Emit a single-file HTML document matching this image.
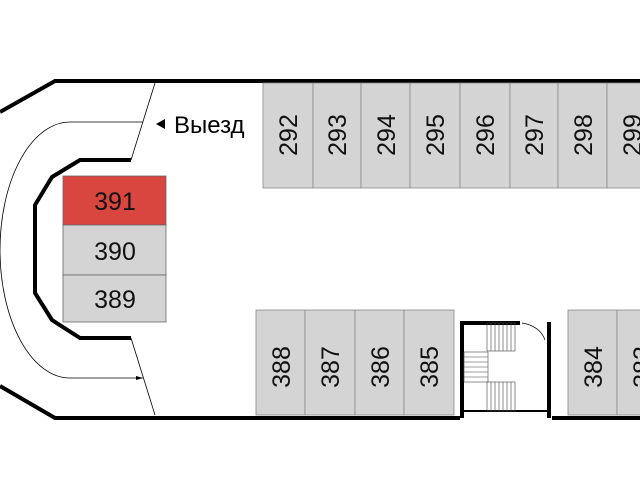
<!DOCTYPE html><html><head><style>body{margin:0;background:#fff}</style></head><body>
<svg width="640" height="480" xmlns="http://www.w3.org/2000/svg" font-family="Liberation Sans, sans-serif">
<rect width="640" height="480" fill="#fff"/>
<g stroke="#000" stroke-width="4" fill="none">
<polyline points="0,112 55,81 640,81"/>
<polyline points="0,386 55,418 460,418"/>
<polyline points="552,418 640,418"/>
<polyline points="131,160 80,160 52,177 35,205 35,293 52,320 80,338 131,338"/>
</g>
<g stroke="#000" stroke-width="0.8" fill="none">
<line x1="155" y1="83" x2="131" y2="160"/>
<line x1="131" y1="338" x2="155" y2="415"/>
<path d="M143,122 H70 A70,128 0 0 0 70,378 H143"/>
</g>
<polygon points="143,378 136,376 136,380" fill="#000"/>
<polygon points="156,124 165,119 165,129" fill="#000"/>
<text x="174" y="133" font-size="24">Выезд</text>
<g stroke="#666" stroke-width="0.8">
<rect x="63" y="176" width="103" height="49" fill="#d9463f"/>
<rect x="63" y="225" width="103" height="50" fill="#d4d4d4"/>
<rect x="63" y="275" width="103" height="47" fill="#d4d4d4"/>
</g>
<g font-size="25" text-anchor="middle" fill="#111">
<text x="115" y="210">391</text><text x="115" y="260">390</text><text x="115" y="308">389</text>
</g>
<g stroke="#888" stroke-width="0.8" fill="#d4d4d4">
<rect x="263" y="83" width="50" height="105"/><rect x="313" y="83" width="48" height="105"/>
<rect x="361" y="83" width="49" height="105"/><rect x="410" y="83" width="50" height="105"/>
<rect x="460" y="83" width="50" height="105"/><rect x="510" y="83" width="48" height="105"/>
<rect x="558" y="83" width="49" height="105"/><rect x="607" y="83" width="49" height="105"/>
<rect x="256" y="310" width="49" height="105"/><rect x="305" y="310" width="50" height="105"/>
<rect x="355" y="310" width="49" height="105"/><rect x="404" y="310" width="50" height="105"/>
<rect x="568" y="310" width="49" height="105"/><rect x="617" y="310" width="49" height="105"/>
</g>
<g font-size="25" fill="#111" text-anchor="middle">
<text transform="translate(297,135) rotate(-90)">292</text>
<text transform="translate(346,135) rotate(-90)">293</text>
<text transform="translate(395,135) rotate(-90)">294</text>
<text transform="translate(444,135) rotate(-90)">295</text>
<text transform="translate(494,135) rotate(-90)">296</text>
<text transform="translate(543,135) rotate(-90)">297</text>
<text transform="translate(592,135) rotate(-90)">298</text>
<text transform="translate(641,135) rotate(-90)">299</text>
<text transform="translate(290,367) rotate(-90)">388</text>
<text transform="translate(339,367) rotate(-90)">387</text>
<text transform="translate(389,367) rotate(-90)">386</text>
<text transform="translate(438,367) rotate(-90)">385</text>
<text transform="translate(602,367) rotate(-90)">384</text>
<text transform="translate(651,367) rotate(-90)">383</text>
</g>
<g stroke="#000" fill="none">
<polyline points="462,418 462,323 520,323" stroke-width="4"/>
<line x1="549" y1="322" x2="549" y2="418" stroke-width="4"/>
<line x1="462" y1="411" x2="549" y2="411" stroke-width="2"/>
<path d="M522,323 Q540,326 545,340" stroke-width="0.7"/>
</g>
<g stroke="#444" stroke-width="0.6" fill="none">
<rect x="487" y="323" width="28" height="28"/>
<rect x="464" y="352" width="24" height="30"/>
<rect x="487" y="382" width="28" height="29"/>
<path d="M491,323v28M495,323v28M499,323v28M503,323v28M507,323v28M511,323v28"/>
<path d="M464,357h24M464,362h24M464,367h24M464,372h24M464,377h24"/>
<path d="M491,382v29M495,382v29M499,382v29M503,382v29M507,382v29M511,382v29"/>
</g>
</svg>
</body></html>
